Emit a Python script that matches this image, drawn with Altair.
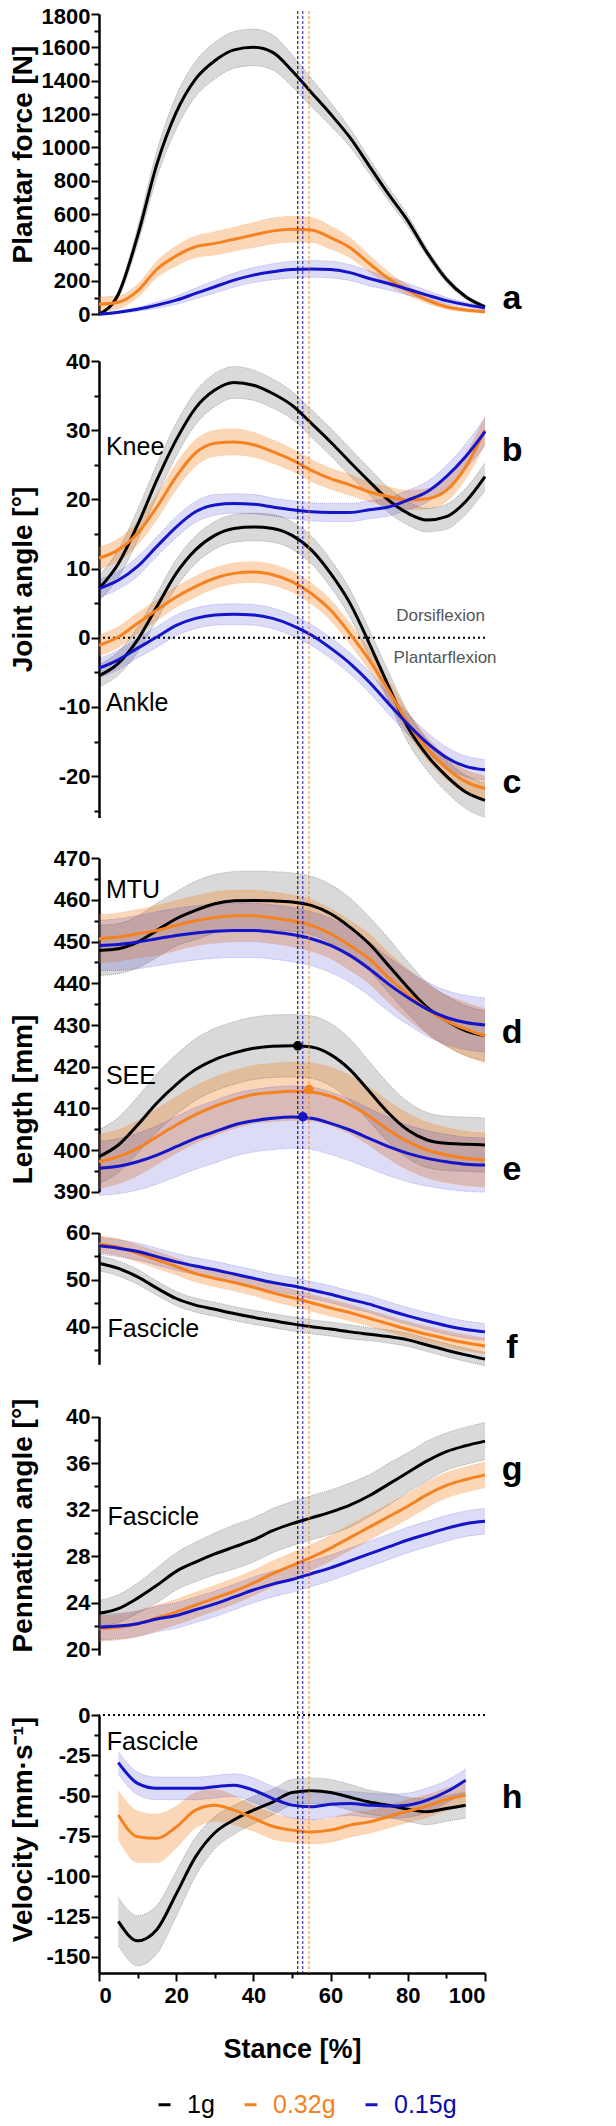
import altair as alt
import pandas as pd

FONT = "Liberation Sans"

# ---------------- data ----------------
X = list(range(0, 101, 5))
XV = list(range(5, 96, 5))
GROUPS = ["1g", "0.32g", "0.15g"]
LINE_COLORS = ["#000000", "#f58220", "#1414c8"]
BAND_OPACITY = {"1g": 0.15, "0.32g": 0.32, "0.15g": 0.15}

# a  plantar force [N]
force_1g = [0, 120, 470, 900, 1210, 1410, 1520, 1585, 1600, 1570, 1460, 1330, 1200, 1060, 890, 720, 560, 370, 210, 105, 45]
force_1g_sd = [0, 20, 50, 80, 100, 105, 110, 110, 110, 105, 95, 85, 70, 55, 45, 40, 35, 25, 20, 15, 10]
force_032 = [60, 72, 140, 270, 350, 405, 425, 450, 475, 500, 510, 505, 460, 400, 305, 214, 144, 85, 45, 26, 16]
force_032_sd = [45, 40, 40, 50, 60, 65, 70, 72, 75, 78, 78, 75, 70, 60, 50, 40, 30, 20, 15, 12, 10]
force_015 = [0, 12, 30, 55, 85, 125, 165, 205, 235, 255, 268, 272, 268, 250, 215, 185, 150, 115, 82, 58, 38]
force_015_sd = [5, 8, 12, 18, 25, 32, 38, 42, 45, 48, 50, 50, 50, 48, 45, 40, 35, 28, 20, 14, 10]

# b  knee angle [deg]
knee_1g = [7.1, 10.7, 16.3, 22.8, 28.6, 33.2, 35.8, 36.9, 36.5, 35.3, 33.6, 31.0, 28.3, 25.4, 22.6, 19.9, 18.0, 17.0, 17.5, 19.7, 23.3]
knee_1g_sd = [1.8, 2.0, 2.2, 2.3, 2.4, 2.4, 2.4, 2.3, 2.2, 2.1, 2.0, 2.0, 2.0, 2.0, 1.9, 1.8, 1.7, 1.7, 1.8, 1.9, 2.0]
knee_032 = [11.5, 12.7, 15.1, 18.9, 23.3, 26.7, 28.1, 28.3, 27.9, 26.9, 25.7, 24.2, 23.0, 22.1, 21.1, 20.4, 19.9, 20.1, 21.3, 24.7, 30.0]
knee_032_sd = [1.6, 1.6, 1.7, 1.8, 1.9, 1.9, 1.9, 1.9, 1.8, 1.7, 1.6, 1.6, 1.5, 1.5, 1.4, 1.4, 1.4, 1.5, 1.6, 1.8, 2.0]
knee_015 = [7.1, 8.3, 10.3, 13.2, 16.0, 18.2, 19.2, 19.4, 19.3, 18.9, 18.5, 18.2, 18.1, 18.1, 18.5, 18.9, 19.9, 21.1, 23.3, 26.2, 29.8]
knee_015_sd = [1.3, 1.3, 1.4, 1.4, 1.5, 1.5, 1.5, 1.4, 1.4, 1.3, 1.3, 1.3, 1.3, 1.3, 1.3, 1.3, 1.4, 1.5, 1.6, 1.8, 2.0]

# c  ankle angle [deg]
ankle_1g = [-5.5, -3.7, -0.3, 4.5, 9.3, 12.7, 14.8, 15.8, 16.0, 15.8, 14.8, 12.7, 9.3, 5.0, -0.8, -7.0, -12.9, -17.0, -20.0, -22.3, -23.5]
ankle_1g_sd = [1.6, 1.7, 1.8, 1.9, 2.0, 2.0, 2.0, 2.0, 2.0, 2.0, 2.0, 2.0, 2.0, 2.0, 2.0, 2.1, 2.2, 2.2, 2.3, 2.4, 2.5]
ankle_032 = [-1.1, 0.1, 2.1, 4.0, 5.9, 7.4, 8.6, 9.3, 9.5, 9.1, 8.1, 6.4, 4.0, 0.6, -3.2, -7.6, -12.3, -16.0, -18.8, -20.8, -21.8]
ankle_032_sd = [1.5, 1.5, 1.5, 1.5, 1.5, 1.5, 1.5, 1.5, 1.5, 1.5, 1.5, 1.5, 1.5, 1.5, 1.5, 1.5, 1.6, 1.6, 1.7, 1.7, 1.8]
ankle_015 = [-4.4, -3.2, -1.5, 0.1, 1.8, 2.8, 3.3, 3.4, 3.3, 2.8, 1.8, 0.4, -1.5, -3.7, -6.4, -9.5, -12.5, -15.2, -17.3, -18.6, -19.1]
ankle_015_sd = [1.4, 1.4, 1.4, 1.5, 1.5, 1.5, 1.5, 1.5, 1.5, 1.5, 1.5, 1.5, 1.5, 1.5, 1.5, 1.5, 1.5, 1.5, 1.5, 1.5, 1.5]

# d  MTU length [mm]
mtu_1g = [447.9, 448.3, 449.9, 452.7, 455.5, 457.5, 459.1, 459.8, 459.9, 459.8, 459.5, 458.7, 456.7, 453.5, 449.5, 444.3, 439.0, 434.2, 431.0, 428.6, 427.4]
mtu_1g_sd = [6.0, 6.0, 6.2, 6.5, 6.5, 7.0, 7.0, 7.0, 7.0, 7.0, 7.0, 7.0, 7.0, 7.0, 6.5, 6.5, 6.2, 6.0, 6.0, 6.0, 6.0]
mtu_032 = [450.7, 451.1, 451.9, 452.7, 453.9, 455.0, 455.8, 456.2, 456.2, 455.7, 455.0, 453.9, 451.9, 449.1, 445.9, 441.4, 437.4, 433.8, 431.0, 429.0, 427.4]
mtu_032_sd = [5.8, 5.8, 5.8, 6.0, 6.0, 6.0, 6.2, 6.2, 6.2, 6.2, 6.2, 6.2, 6.0, 6.0, 6.0, 6.0, 6.0, 6.0, 6.2, 6.4, 6.5]
mtu_015 = [449.1, 449.3, 449.9, 450.7, 451.5, 452.1, 452.5, 452.7, 452.7, 452.3, 451.7, 450.7, 449.1, 446.7, 443.5, 439.8, 436.6, 433.8, 431.8, 430.6, 430.0]
mtu_015_sd = [6.0, 6.2, 6.4, 6.5, 6.5, 6.5, 6.5, 6.5, 6.5, 6.5, 6.5, 6.5, 6.5, 6.5, 6.5, 6.5, 6.5, 6.5, 6.5, 6.5, 6.5]

# e  SEE length [mm]
see_1g = [398.4, 401.2, 406.0, 411.3, 415.7, 419.3, 421.7, 423.3, 424.4, 424.9, 425.0, 424.7, 422.9, 419.3, 414.1, 408.9, 404.8, 402.4, 401.6, 401.4, 401.2]
see_1g_sd = [6.5, 6.6, 6.8, 7.0, 7.2, 7.4, 7.5, 7.5, 7.5, 7.5, 7.5, 7.5, 7.5, 7.4, 7.2, 7.0, 6.8, 6.6, 6.5, 6.5, 6.5]
see_032 = [397.2, 398.4, 400.4, 403.2, 406.0, 408.5, 410.5, 412.1, 413.3, 413.8, 414.1, 413.9, 412.9, 410.9, 408.1, 404.8, 402.0, 400.0, 398.8, 398.0, 397.6]
see_032_sd = [6.5, 6.5, 6.6, 6.7, 6.8, 6.9, 7.0, 7.0, 7.0, 7.0, 7.0, 7.0, 7.0, 7.0, 7.0, 6.9, 6.8, 6.7, 6.6, 6.5, 6.5]
see_015 = [395.6, 396.1, 397.2, 398.8, 400.8, 402.8, 404.4, 406.0, 407.0, 407.6, 407.9, 407.6, 406.4, 404.8, 402.8, 400.8, 399.2, 398.0, 397.2, 396.6, 396.4]
see_015_sd = [6.5, 6.6, 6.8, 7.0, 7.2, 7.4, 7.5, 7.5, 7.5, 7.5, 7.5, 7.5, 7.5, 7.4, 7.2, 7.0, 6.8, 6.7, 6.6, 6.5, 6.5]

# f  fascicle length [mm]
fas_1g = [53.5, 52.4, 50.6, 48.2, 46.0, 44.6, 43.7, 42.8, 42.0, 41.3, 40.6, 40.0, 39.5, 38.9, 38.4, 37.9, 37.2, 36.1, 35.0, 34.0, 33.1]
fas_1g_sd = [1.6, 1.6, 1.6, 1.5, 1.5, 1.5, 1.5, 1.5, 1.5, 1.5, 1.5, 1.5, 1.5, 1.5, 1.4, 1.4, 1.4, 1.4, 1.4, 1.4, 1.4]
fas_032 = [57.6, 56.9, 55.6, 54.2, 52.8, 51.3, 50.3, 49.4, 48.4, 47.2, 46.2, 45.1, 44.0, 43.0, 41.8, 40.6, 39.4, 38.4, 37.4, 36.6, 35.9]
fas_032_sd = [1.8, 1.8, 1.8, 1.8, 1.8, 1.8, 1.8, 1.8, 1.8, 1.8, 1.8, 1.8, 1.8, 1.8, 1.7, 1.7, 1.7, 1.7, 1.7, 1.7, 1.7]
fas_015 = [57.2, 56.7, 56.0, 54.9, 53.8, 52.9, 52.1, 51.2, 50.3, 49.4, 48.7, 47.8, 46.9, 45.8, 44.8, 43.5, 42.3, 41.2, 40.2, 39.4, 38.9]
fas_015_sd = [1.8, 1.8, 1.8, 1.8, 1.8, 1.8, 1.8, 1.8, 1.8, 1.8, 1.8, 1.8, 1.8, 1.8, 1.8, 1.8, 1.8, 1.8, 1.8, 1.8, 1.8]

# g  pennation angle [deg]
pen_1g = [23.1, 23.5, 24.4, 25.5, 26.7, 27.5, 28.2, 28.8, 29.4, 30.2, 30.8, 31.3, 31.8, 32.4, 33.2, 34.2, 35.2, 36.2, 37.0, 37.5, 37.9]
pen_1g_sd = [1.1, 1.2, 1.3, 1.5, 1.6, 1.7, 1.8, 1.9, 1.9, 1.9, 1.9, 1.9, 1.9, 1.9, 1.8, 1.8, 1.7, 1.7, 1.6, 1.6, 1.6]
pen_032 = [21.8, 21.9, 22.2, 22.7, 23.2, 23.8, 24.4, 25.0, 25.7, 26.5, 27.2, 27.9, 28.7, 29.6, 30.5, 31.4, 32.3, 33.3, 34.1, 34.6, 35.0]
pen_032_sd = [1.1, 1.1, 1.1, 1.1, 1.1, 1.1, 1.1, 1.1, 1.1, 1.1, 1.1, 1.1, 1.1, 1.1, 1.1, 1.1, 1.1, 1.1, 1.1, 1.1, 1.1]
pen_015 = [21.9, 22.0, 22.2, 22.6, 22.9, 23.4, 23.9, 24.5, 25.1, 25.6, 26.0, 26.5, 27.0, 27.6, 28.2, 28.8, 29.4, 29.9, 30.4, 30.8, 31.0]
pen_015_sd = [1.1, 1.1, 1.1, 1.1, 1.1, 1.1, 1.1, 1.1, 1.1, 1.1, 1.1, 1.1, 1.1, 1.1, 1.1, 1.1, 1.1, 1.1, 1.1, 1.1, 1.1]

# h  fascicle velocity [mm/s]
vel_1g = [-128, -140, -133, -111, -88, -73, -65, -59, -54, -48, -47, -48, -51, -54, -56, -58.5, -60, -58, -56]
vel_1g_sd = [15, 15.5, 15, 14, 12, 10, 9, 8.5, 8, 8, 8, 8, 8, 7.5, 7.5, 7.5, 8, 8, 8]
vel_032 = [-62, -75.5, -76.5, -69.5, -59, -56, -59, -64, -69, -71.4, -72.5, -71.4, -68.3, -66.3, -63.1, -59.6, -56.5, -52.4, -49.7]
vel_032_sd = [15, 16, 15, 13, 11, 10, 9, 8, 8, 7.5, 7.5, 7.5, 7.5, 7, 7, 7, 7, 7, 7]
vel_015 = [-29.6, -42.4, -45.5, -45.5, -45.5, -44.5, -43.5, -46.6, -51.8, -55.9, -56.9, -55.3, -54.9, -55.9, -56.5, -55.9, -52.8, -47.6, -40.4]
vel_015_sd = [7, 7, 7, 7, 7, 7, 7, 7.5, 7.5, 8, 8, 8, 7.5, 7.5, 7.5, 7.5, 7.5, 7, 7]

# peak SEE length timing (% stance) and values
peak_groups = ["1g", "0.15g", "0.32g"]
peak_x = [51.5, 52.8, 54.4]
peak_see = [425.0, 408.0, 414.5]

# ---------------- helpers ----------------
def long_df(xs, series):
    rows = []
    for var, g, m, s in series:
        for x, mv, sv in zip(xs, m, s):
            rows.append({"x": x, "var": var, "group": g, "mean": mv, "lo": mv - sv, "hi": mv + sv,
                         "op": BAND_OPACITY[g]})
    return pd.DataFrame(rows)


cscale = alt.Scale(domain=GROUPS, range=LINE_COLORS)
xenc = alt.X(
    "x:Q",
    scale=alt.Scale(domain=[0, 100], nice=False, zero=False),
    axis=alt.Axis(
        title="Stance [%]",
        values=list(range(0, 101, 10)),
        labelExpr="datum.value % 20 === 0 ? datum.label : ''",
        tickSize={"condition": {"test": "datum.value % 20 === 0", "value": 8}, "value": 5},
        labelPadding=4,
        titlePadding=30,
        labelFontSize=22,
        titleFontSize=27,
    ),
)


def yaxis(title, values, mod, title_y, top_value=None):
    kw = {}
    if top_value is not None:
        kw["labelOffset"] = {"condition": {"test": f"datum.value === {top_value}", "value": 2}, "value": 0}
    return alt.Axis(
        title=title,
        orient="left",
        values=values,
        format="d",
        labelExpr=f"datum.value % {mod} === 0 ? replace(datum.label, '\u2212', '-') : ''",
        tickSize={"condition": {"test": f"datum.value % {mod} === 0", "value": 8}, "value": 5},
        labelPadding=1,
        titleX=-68,
        titleY=title_y,
        titleBaseline="alphabetic",
        **kw,
    )


def panel(df, dom, rng, axis, texts=None, zero_line=False, points=None):
    sc = alt.Scale(domain=dom, range=rng, nice=False, zero=False)
    col = alt.Color("group:N", scale=cscale, legend=None)
    base = alt.Chart(df)
    band = base.mark_area(interpolate="monotone").encode(
        x=xenc,
        y=alt.Y("lo:Q", scale=sc, axis=axis),
        y2="hi:Q",
        color=col,
        opacity=alt.Opacity("op:Q", scale=None),
        detail="var:N",
    )
    layers = [band]
    for edge in ("lo", "hi"):
        layers.append(
            base.mark_line(interpolate="monotone", strokeWidth=0.8, strokeDash=[1, 1], opacity=0.35).encode(
                x=xenc, y=alt.Y(f"{edge}:Q", scale=sc, axis=axis), color=col, detail="var:N"
            )
        )
    if zero_line:
        z = alt.Chart(pd.DataFrame({"yv": [0]})).mark_rule(
            strokeDash=[2, 3], strokeWidth=2, color="black"
        ).encode(y=alt.Y("yv:Q", scale=sc, axis=axis))
        layers.append(z)
    line = base.mark_line(interpolate="monotone", strokeWidth=3).encode(
        x=xenc, y=alt.Y("mean:Q", scale=sc, axis=axis), color=col, detail="var:N"
    )
    layers.append(line)
    if points is not None:
        p = alt.Chart(points).mark_circle(size=90, opacity=1).encode(
            x=xenc, y=alt.Y("yv:Q", scale=sc, axis=axis), color=col
        )
        layers.append(p)
    if texts is not None:
        for (tdf_, align, size, weight) in texts:
            t = alt.Chart(tdf_).mark_text(
                align=align, baseline="middle", font=FONT, fontSize=size, fontWeight=weight
            ).encode(
                x=xenc,
                y=alt.Y("yv:Q", scale=sc, axis=axis),
                text="label:N",
                color=alt.Color("c:N", scale=None),
            )
            layers.append(t)
    return alt.layer(*layers)


def tdf(labels, xs, ys, colors):
    return pd.DataFrame({"label": labels, "x": xs, "yv": ys, "c": colors})


# ---------------- panels ----------------
dfa = long_df(X, [("f", "1g", force_1g, force_1g_sd), ("f", "0.32g", force_032, force_032_sd), ("f", "0.15g", force_015, force_015_sd)])
pa = panel(
    dfa, [0, 1800], [303.3, 3],
    yaxis("Plantar force [N]", list(range(0, 1801, 100)), 200, 143, top_value=1800),
    texts=[(tdf(["a"], [107], [90], ["black"]), "center", 34, "bold")],
)

dfb = long_df(X, [
    ("knee", "1g", knee_1g, knee_1g_sd), ("knee", "0.32g", knee_032, knee_032_sd), ("knee", "0.15g", knee_015, knee_015_sd),
    ("ankle", "1g", ankle_1g, ankle_1g_sd), ("ankle", "0.32g", ankle_032, ankle_032_sd), ("ankle", "0.15g", ankle_015, ankle_015_sd),
])
pb = panel(
    dfb, [-26, 40], [806.6, 350],
    yaxis("Joint angle [°]", list(range(-25, 41, 5)), 10, 568),
    zero_line=True,
    texts=[
        (tdf(["Knee", "Ankle"], [1.8, 1.8], [27.6, -9.5], ["black", "black"]), "left", 25, "normal"),
        (tdf(["Dorsiflexion"], [100], [3.1], ["#555555"]), "right", 17, "normal"),
        (tdf(["Plantarflexion"], [103], [-3.0], ["#555555"]), "right", 17, "normal"),
        (tdf(["b", "c"], [107, 107], [27, -21], ["black", "black"]), "center", 34, "bold"),
    ],
)

dfd = long_df(X, [
    ("mtu", "1g", mtu_1g, mtu_1g_sd), ("mtu", "0.32g", mtu_032, mtu_032_sd), ("mtu", "0.15g", mtu_015, mtu_015_sd),
    ("see", "1g", see_1g, see_1g_sd), ("see", "0.32g", see_032, see_032_sd), ("see", "0.15g", see_015, see_015_sd),
])
pts = pd.DataFrame({"x": peak_x, "yv": peak_see, "group": peak_groups})
pdd = panel(
    dfd, [390, 470], [1180.7, 847.3],
    yaxis("Length [mm]", list(range(390, 471, 5)), 10, 1088),
    points=pts,
    texts=[
        (tdf(["MTU", "SEE"], [1.8, 1.8], [462.4, 417.7], ["black", "black"]), "left", 25, "normal"),
        (tdf(["d", "e"], [107, 107], [428, 395.3], ["black", "black"]), "center", 34, "bold"),
    ],
)

dff = long_df(X, [("fl", "1g", fas_1g, fas_1g_sd), ("fl", "0.32g", fas_032, fas_032_sd), ("fl", "0.15g", fas_015, fas_015_sd)])
pf = panel(
    dff, [32, 60], [1353.3, 1221.7],
    yaxis("", [35, 40, 45, 50, 55, 60], 10, 1287),
    texts=[
        (tdf(["Fascicle"], [2.2], [39.6], ["black"]), "left", 25, "normal"),
        (tdf(["f"], [107], [35.4], ["black"]), "center", 34, "bold"),
    ],
)

dfg = long_df(X, [("pa", "1g", pen_1g, pen_1g_sd), ("pa", "0.32g", pen_032, pen_032_sd), ("pa", "0.15g", pen_015, pen_015_sd)])
pg = panel(
    dfg, [19.5, 40], [1644.1, 1405.7],
    yaxis("Pennation angle [°]", list(range(20, 41, 2)), 4, 1514),
    texts=[
        (tdf(["Fascicle"], [2.2], [31.4], ["black"]), "left", 25, "normal"),
        (tdf(["g"], [107], [35.4], ["black"]), "center", 34, "bold"),
    ],
)

dfh = long_df(XV, [("v", "1g", vel_1g, vel_1g_sd), ("v", "0.32g", vel_032, vel_032_sd), ("v", "0.15g", vel_015, vel_015_sd)])
ph = panel(
    dfh, [-160, 0], [1962, 1704],
    yaxis("Velocity [mm·s⁻¹]", [-150 + 12.5 * i for i in range(13)], 25, 1818),
    zero_line=True,
    texts=[
        (tdf(["Fascicle"], [2.0], [-16.6], ["black"]), "left", 25, "normal"),
        (tdf(["h"], [107], [-51.7], ["black"]), "center", 34, "bold"),
    ],
)

vdf = pd.DataFrame({"x": peak_x, "group": peak_groups})
legend = alt.Legend(
    orient="none",
    legendX=53,
    legendY=2081,
    padding=0,
    direction="horizontal",
    title=None,
    symbolType="stroke",
    symbolStrokeWidth=3,
    symbolSize=144,
    symbolOpacity=1,
    labelFontSize=25,
    labelFont=FONT,
    labelOffset=10,
    columnPadding=23,
    labelColor=alt.ExprRef("datum.value === '1g' ? '#000000' : datum.value === '0.32g' ? '#f58220' : '#0c0caa'"),
)
# legend carrier (first layer) and visible dashed rules drawn on top of everything
legend_layer = alt.Chart(vdf).mark_rule(opacity=0).encode(
    x=xenc, color=alt.Color("group:N", scale=cscale, legend=legend)
)
rules = alt.Chart(vdf).mark_rule(strokeDash=[3, 2], strokeWidth=1.0).encode(
    x=xenc, color=alt.Color("group:N", scale=cscale, legend=None)
)

chart = (
    alt.layer(legend_layer, pa, pb, pdd, pf, pg, ph, rules)
    .resolve_scale(y="independent")
    .properties(
        width=386,
        height=1962,
        padding={"left": 91, "top": 3, "right": 123, "bottom": 145},
        autosize=alt.AutoSizeParams(type="none"),
    )
    .configure_view(stroke=None)
    .configure_axis(
        grid=False,
        labelFont=FONT,
        labelFontWeight="bold",
        labelFontSize=22,
        labelColor="black",
        titleFont=FONT,
        titleFontWeight="bold",
        titleFontSize=28,
        titleColor="black",
        domainColor="black",
        domainWidth=2.5,
        tickColor="black",
        tickWidth=2,
    )
)

chart.save("out.html", embed_options={"renderer": "svg", "actions": False})
